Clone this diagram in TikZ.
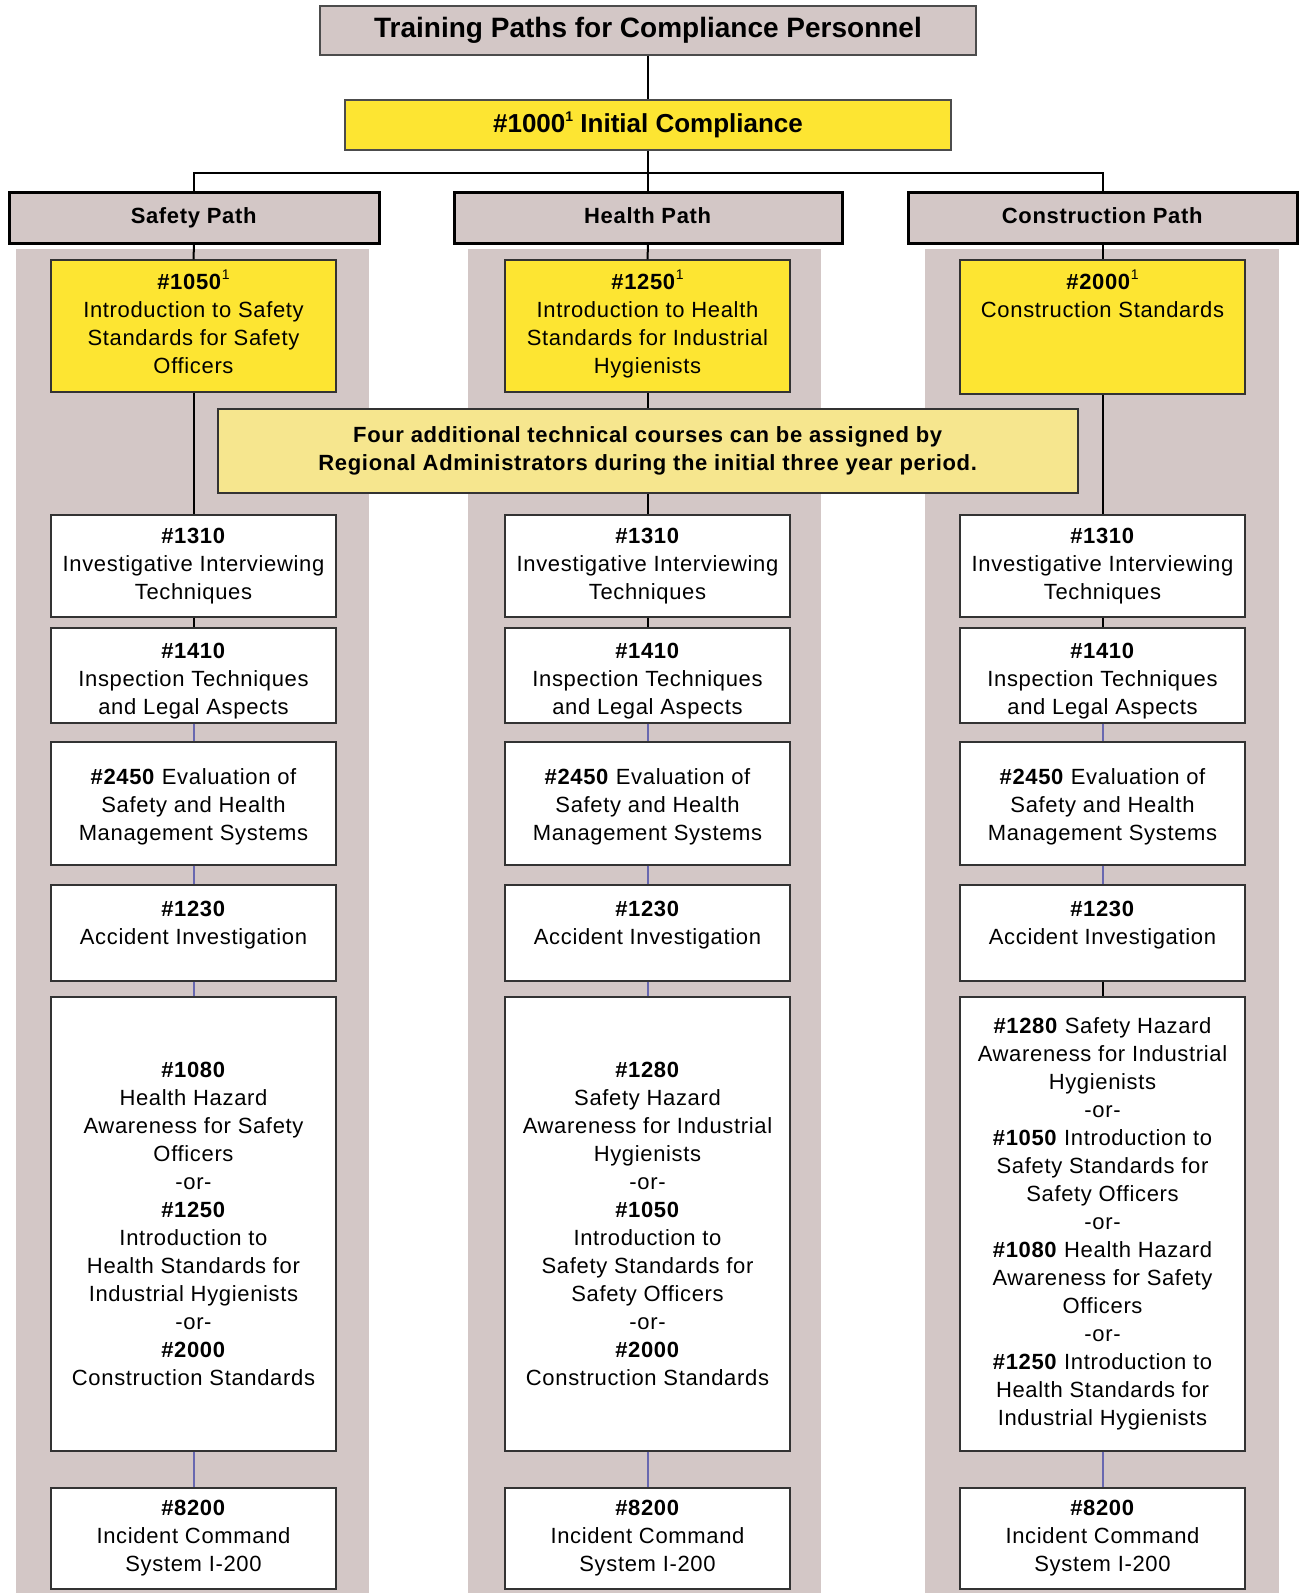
\documentclass[tikz,border=0pt]{standalone}
\usepackage{fontspec}
\setmainfont{Liberation Sans}
\newfontfamily\bodyfont{Liberation Sans}[LetterSpace=3]
\definecolor{pathgray}{RGB}{211,199,198}
\definecolor{courseyellow}{RGB}{253,229,50}
\definecolor{paleyellow}{RGB}{246,230,142}
\definecolor{linkblue}{RGB}{104,104,176}
\newcommand{\supone}{\raisebox{0.85ex}{\fontsize{14}{14}\selectfont 1}}
\tikzset{
  txt/.style={font=\bodyfont\fontsize{22}{28}\selectfont},
  course/.style={draw=black!80, fill=white, line width=1.3, minimum width=285, align=center, inner sep=0, txt},
  yelbox/.style={course, fill=courseyellow},
  pathhdr/.style={draw=black, fill=pathgray, line width=3, minimum height=51, align=center, inner sep=0, text height=16, text depth=5, txt},
  blk/.style={draw=black, line width=2},
  blu/.style={draw=linkblue, line width=2},
}
\begin{document}
\begin{tikzpicture}[x=1pt,y=-1pt]
\useasboundingbox (0,0) rectangle (1302,1593);
\fill[white] (0,0) rectangle (1302,1593);
% column backgrounds
\fill[pathgray] (16,249) rectangle (369,1593);
\fill[pathgray] (468,249) rectangle (821,1593);
\fill[pathgray] (925,249) rectangle (1279,1593);

% title and initial
\node[draw=black!70, fill=pathgray, line width=1.2, minimum width=656, minimum height=49, inner sep=0,
      font=\fontsize{28}{32}\selectfont\bfseries] (title) at (648,30.5) {Training Paths for Compliance Personnel};
\node[draw=black!70, fill=courseyellow, line width=1.2, minimum width=606, minimum height=50, inner sep=0,
      font=\fontsize{26}{30}\selectfont\bfseries] (init) at (648,125) {\#1000\supone{} Initial Compliance};

% path headers
\node[pathhdr, minimum width=370] (hdrS) at (194,217.5) {\textbf{Safety Path}};
\node[pathhdr, minimum width=388] (hdrH) at (648,217.5) {\textbf{Health Path}};
\node[pathhdr, minimum width=389] (hdrC) at (1102.5,217.5) {\textbf{Construction Path}};

\coordinate (bus) at (648,173);
\draw[blk] (title.south) -- (init.north);
\draw[blk] (init.south) -- (hdrH.north);
\draw[blk] (bus) -| (hdrS.north);
\draw[blk] (bus) -| (hdrC.north);

% yellow entry courses
\node[yelbox, minimum height=132, text height=110, text depth=16] (yS) at (193.5,326) {\textbf{\#1050}\supone\\Introduction to Safety\\Standards for Safety\\Officers};
\node[yelbox, minimum height=132, text height=110, text depth=16] (yH) at (647.5,326) {\textbf{\#1250}\supone\\Introduction to Health\\Standards for Industrial\\Hygienists};
\node[yelbox, minimum height=134, text height=40, text depth=60] (yC) at (1102.5,327) {\textbf{\#2000}\supone\\Construction Standards};

% common courses
\foreach \c/\x in {S/193.5,H/647.5,C/1102.5}{
  \node[course, minimum height=102] (a\c) at (\x,566) {\textbf{\#1310}\\Investigative Interviewing\\Techniques};
  \node[course, minimum height=95, text height=80, text depth=3] (b\c) at (\x,675.5) {\textbf{\#1410}\\Inspection Techniques\\and Legal Aspects};
  \node[course, minimum height=123, text height=80, text depth=7] (e\c) at (\x,803.5) {\textbf{\#2450} Evaluation of\\Safety and Health\\Management Systems};
  \node[course, minimum height=96, text height=50, text depth=28] (d\c) at (\x,933) {\textbf{\#1230}\\Accident Investigation};
  \node[course, minimum height=101] (i\c) at (\x,1538.5) {\textbf{\#8200}\\Incident Command\\System I-200};
}

% elective boxes
\node[course, minimum height=454] (gS) at (193.5,1224) {\textbf{\#1080}\\Health Hazard\\Awareness for Safety\\Officers\\-or-\\\textbf{\#1250}\\Introduction to\\Health Standards for\\Industrial Hygienists\\-or-\\\textbf{\#2000}\\Construction Standards};
\node[course, minimum height=454] (gH) at (647.5,1224) {\textbf{\#1280}\\Safety Hazard\\Awareness for Industrial\\Hygienists\\-or-\\\textbf{\#1050}\\Introduction to\\Safety Standards for\\Safety Officers\\-or-\\\textbf{\#2000}\\Construction Standards};
\node[course, minimum height=454] (gC) at (1102.5,1224) {\textbf{\#1280} Safety Hazard\\Awareness for Industrial\\Hygienists\\-or-\\\textbf{\#1050} Introduction to\\Safety Standards for\\Safety Officers\\-or-\\\textbf{\#1080} Health Hazard\\Awareness for Safety\\Officers\\-or-\\\textbf{\#1250} Introduction to\\Health Standards for\\Industrial Hygienists};

% connectors
\foreach \c in {S,H,C}{
  \draw[blk] (hdr\c.south) -- (y\c.north);
  \draw[blk] (y\c.south) -- (a\c.north);
  \draw[blk] (a\c.south) -- (b\c.north);
  \draw[blu] (b\c.south) -- (e\c.north);
  \draw[blu] (e\c.south) -- (d\c.north);
  \draw[blu] (g\c.south) -- (i\c.north);
}
\draw[blu] (dS.south) -- (gS.north);
\draw[blu] (dH.south) -- (gH.north);
\draw[blk] (dC.south) -- (gC.north);

% note box over the lines
\node[draw=black!80, fill=paleyellow, line width=1.3, minimum width=860, minimum height=84, inner sep=0, align=center, txt] (note) at (648,451)
  {\textbf{Four additional technical courses can be assigned by}\\\textbf{Regional Administrators during the initial three year period.}};
\end{tikzpicture}
\end{document}
